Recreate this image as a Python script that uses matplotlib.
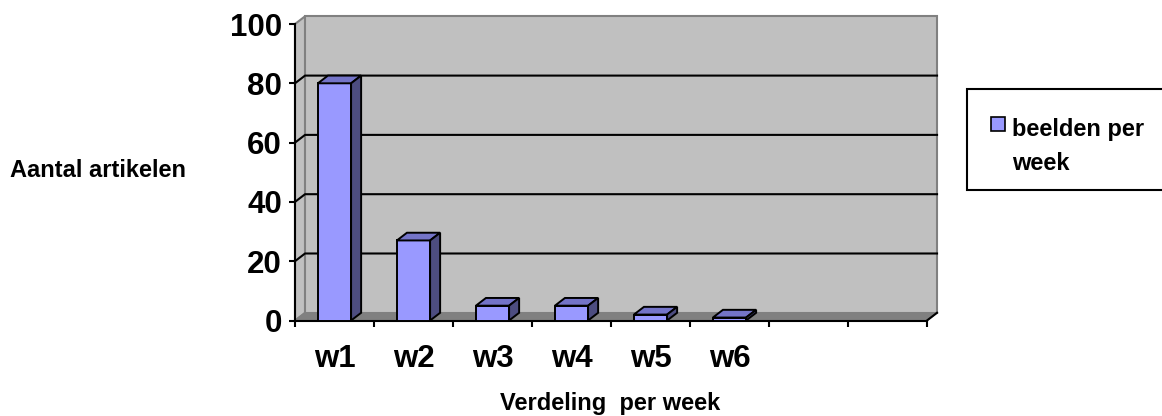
import matplotlib
matplotlib.use("Agg")
import matplotlib.pyplot as plt
from matplotlib.patches import Rectangle, Polygon

# data
categories = ["w1", "w2", "w3", "w4", "w5", "w6", "", ""]
values = [80, 27, 5, 5, 2, 1]
y_ticks = [0, 20, 40, 60, 80, 100]
series_name = "beelden per\nweek"
y_title = "Aantal artikelen"
x_title = "Verdeling  per week"

# old excel palette
FRONT = "#9999FF"
TOP = "#7474C8"
SIDE = "#4D4D80"
WALL = "#C0C0C0"
FLOOR = "#808080"

W, H = 1162, 416


def draw():
    plt.rcParams["font.family"] = ["Liberation Sans", "DejaVu Sans"]
    plt.rcParams["font.weight"] = "bold"

    fig = plt.figure(figsize=(W / 100, H / 100), dpi=100)
    ax = fig.add_axes([295 / W, (H - 320.5) / H, 632 / W, 296.5 / H])

    n = len(categories)
    x0, x1 = -0.5, n - 0.5
    ymax = y_ticks[-1]
    ax.set_xlim(x0, x1)
    ax.set_ylim(0, ymax)
    ax.patch.set_visible(False)

    # depth of the fake 3d, in data units
    dx, dy = 0.127, 2.6

    # walls + floor
    ax.add_patch(Polygon([(x0, 0), (x0, ymax), (x0 + dx, ymax + dy), (x0 + dx, dy)],
                         closed=True, fc=WALL, ec=FLOOR, lw=1.5, clip_on=False, zorder=0))
    ax.add_patch(Rectangle((x0 + dx, dy), x1 - x0, ymax, fc=WALL, ec=FLOOR,
                           lw=1.5, clip_on=False, zorder=0))
    ax.add_patch(Polygon([(x0, 0), (x1, 0), (x1 + dx, dy), (x0 + dx, dy)],
                         closed=True, fc=FLOOR, ec=FLOOR, lw=1, clip_on=False, zorder=0.5))

    # gridlines run over the side wall and the back wall
    for v in y_ticks[1:-1]:
        ax.plot([x0, x0 + dx, x1 + dx], [v, v + dy, v + dy], color="black",
                lw=1.5, clip_on=False, zorder=1)
    ax.plot([x1, x1 + dx], [0, dy], color="black", lw=1.5, clip_on=False, zorder=1)

    # bars: front face from ax.bar, top and side added on
    xs = list(range(len(values)))
    bars = ax.bar(xs, values, width=0.42, color=FRONT, edgecolor="black",
                  linewidth=1.4, zorder=3)
    for b in bars:
        l = b.get_x()
        r = l + b.get_width()
        t = b.get_height()
        ax.add_patch(Polygon([(l, t), (l + dx, t + dy), (r + dx, t + dy), (r, t)],
                             closed=True, fc=TOP, ec="black", lw=1.4, zorder=3, clip_on=False))
        ax.add_patch(Polygon([(r, 0), (r + dx, dy), (r + dx, t + dy), (r, t)],
                             closed=True, fc=SIDE, ec="black", lw=1.4, zorder=3, clip_on=False))

    for side in ["top", "right"]:
        ax.spines[side].set_visible(False)
    for side in ["left", "bottom"]:
        ax.spines[side].set_linewidth(1.5)
        ax.spines[side].set_color("black")

    ax.set_yticks(y_ticks)
    ax.tick_params(axis="y", direction="out", length=4.5, width=1.5, pad=5, labelsize=22.5)

    ax.set_xticks([i - 0.5 for i in range(n + 1)])
    ax.set_xticklabels([])
    ax.set_xticks(range(n), minor=True)
    ax.set_xticklabels(categories, minor=True)
    ax.tick_params(axis="x", which="major", direction="out", length=4.5, width=1.5)
    ax.tick_params(axis="x", which="minor", length=0, pad=17, labelsize=22.5)

    fig.text(10 / W, 1 - 177 / H, y_title, fontsize=17, ha="left", va="baseline")
    fig.text(610 / W, 1 - 410 / H, x_title, fontsize=17, ha="center", va="baseline")

    # legend box, partly cut off on the right like the original
    fig.add_artist(Rectangle((967 / W, 1 - 190 / H), 220 / W, 101 / H,
                             transform=fig.transFigure, fc="white", ec="black", lw=1.5))
    fig.add_artist(Rectangle((991 / W, 1 - 131 / H), 14 / W, 14 / H,
                             transform=fig.transFigure, fc=FRONT, ec="black", lw=1.2))
    fig.text(1012 / W, 1 - 118 / H, series_name, fontsize=17, ha="left", va="top",
             linespacing=1.63)

    fig.savefig("out.png", dpi=100)
    plt.close(fig)


if __name__ == "__main__":
    draw()
